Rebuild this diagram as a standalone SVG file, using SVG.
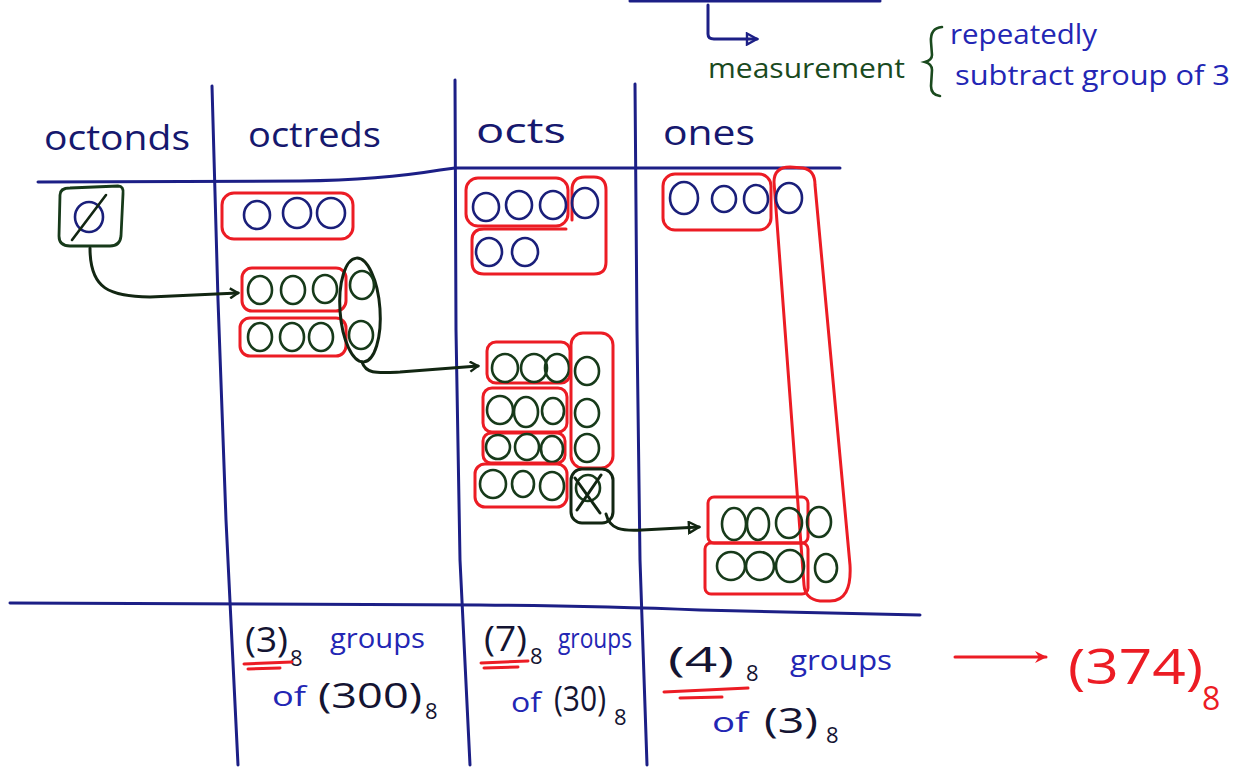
<svg xmlns="http://www.w3.org/2000/svg" width="1247" height="767" viewBox="0 0 1247 767">
  <style>
    .rule { fill: none; stroke: #1c1f86; stroke-width: 3; stroke-linecap: round; stroke-linejoin: round; }
    .red { fill: none; stroke: #ec1c24; stroke-width: 3; stroke-linecap: round; stroke-linejoin: round; }
    .blk { fill: none; stroke: #122612; stroke-width: 3; stroke-linecap: round; stroke-linejoin: round; }
    .bc { fill: none; stroke: #1a1f7a; stroke-width: 2.6; }
    .gc { fill: none; stroke: #173a1a; stroke-width: 2.6; }
    .head { font-family: "Open Sans", "Liberation Sans", sans-serif; font-size: 34px; fill: #16186e; }
    .note { font-family: "Open Sans", "Liberation Sans", sans-serif; font-size: 28px; }
    .num { font-family: "Open Sans", "Liberation Sans", sans-serif; font-size: 34px; fill: #141432; }
    .ink { fill: #141432; }
    .blue { fill: #2326b4; }
    .green { fill: #1a4a1e; }
    .sub { font-family: "Open Sans", "Liberation Sans", sans-serif; font-size: 22px; fill: #141432; }
    .result { font-family: "Open Sans", "Liberation Sans", sans-serif; font-size: 50px; fill: #ec1c24; }
    .rsub { font-family: "Open Sans", "Liberation Sans", sans-serif; font-size: 32px; fill: #ec1c24; }
  </style>
  <defs>
    <marker id="chev" viewBox="0 0 12 12" refX="10" refY="6" markerWidth="12" markerHeight="12" markerUnits="userSpaceOnUse" orient="auto">
      <path d="M2 1 L10 6 L2 11" fill="none" stroke="#122612" stroke-width="2.4"/>
    </marker>
    <marker id="tri" viewBox="0 0 14 14" refX="12" refY="7" markerWidth="14" markerHeight="14" markerUnits="userSpaceOnUse" orient="auto">
      <path d="M2 1.5 L12 7 L2 12.5 Z" fill="none" stroke="#122612" stroke-width="2.4"/>
    </marker>
    <marker id="triBlue" viewBox="0 0 14 14" refX="12" refY="7" markerWidth="14" markerHeight="14" markerUnits="userSpaceOnUse" orient="auto">
      <path d="M2 1.5 L12 7 L2 12.5 Z" fill="none" stroke="#1c1f86" stroke-width="2.4"/>
    </marker>
    <marker id="redHead" viewBox="0 0 14 14" refX="12" refY="7" markerWidth="14" markerHeight="14" markerUnits="userSpaceOnUse" orient="auto">
      <path d="M1 1 L13 7 L1 13 L5 7 Z" fill="#ec1c24"/>
    </marker>
  </defs>

  <rect width="1247" height="767" fill="#ffffff"/>

  <!-- table rules -->
  <g id="grid">
    <path class="rule" d="M630 1 L880 1"/>
    <path class="rule" d="M212 86 L218 300 L226 520 L238 765"/>
    <path class="rule" d="M455 80 L456 330 L460 560 L470 765"/>
    <path class="rule" d="M635 84 L637 330 L640 560 L647 765"/>
    <path class="rule" d="M38 182 L300 181 Q 380 180 440 170 L455 168 L840 168"/>
    <path class="rule" d="M10 603 L480 605 Q 600 606 700 610 L920 615"/>
  </g>

  <!-- note at top -->
  <g id="note">
    <text class="note green" x="708" y="78" textLength="197" lengthAdjust="spacingAndGlyphs">measurement</text>
    <path d="M942 27 Q 930 28 931 42 L 932 55 Q 932 60 925 62 Q 932 64 932 70 L 931 86 Q 931 95 940 96" fill="none" stroke="#1a4a1e" stroke-width="2.6" stroke-linecap="round"/>
    <text class="note blue" x="950" y="44" textLength="147" lengthAdjust="spacingAndGlyphs">repeatedly</text>
    <text class="note blue" x="955" y="85" textLength="275" lengthAdjust="spacingAndGlyphs">subtract group of 3</text>
  </g>

  <!-- column headings -->
  <g id="headings">
    <text class="head" x="44" y="150" textLength="146" lengthAdjust="spacingAndGlyphs">octonds</text>
    <text class="head" x="248" y="147" textLength="133" lengthAdjust="spacingAndGlyphs">octreds</text>
    <text class="head" x="476" y="143" textLength="90" lengthAdjust="spacingAndGlyphs">octs</text>
    <text class="head" x="663" y="145" textLength="92" lengthAdjust="spacingAndGlyphs">ones</text>
  </g>

  <!-- octonds: empty -->
  <g id="octonds-cell">
    <path d="M60 195 Q 60 188 70 188 L 118 186 Q 124 186 123 194 L 121 236 Q 120 246 110 246 L 70 246 Q 59 246 59 236 Z" fill="none" stroke="#173a1a" stroke-width="2.8"/>
    <ellipse class="bc" cx="89" cy="217" rx="14" ry="15"/>
    <path d="M72 240 L106 195" stroke="#122612" stroke-width="2.6" stroke-linecap="round"/>
  </g>

  <!-- octreds -->
  <g id="octreds-cell">
    <rect class="red" x="222" y="193" width="131" height="46" rx="12"/>
    <ellipse class="bc" cx="257" cy="215" rx="13" ry="14"/>
    <ellipse class="bc" cx="297" cy="213" rx="14" ry="15"/>
    <ellipse class="bc" cx="331" cy="213" rx="14" ry="15"/>

    <rect class="red" x="242" y="268" width="104" height="43" rx="10"/>
    <ellipse class="gc" cx="260" cy="290" rx="12" ry="14"/>
    <ellipse class="gc" cx="293" cy="290" rx="12" ry="14"/>
    <ellipse class="gc" cx="325" cy="289" rx="12" ry="14"/>

    <rect class="red" x="240" y="318" width="106" height="38" rx="10"/>
    <ellipse class="gc" cx="260" cy="337" rx="12" ry="14"/>
    <ellipse class="gc" cx="292" cy="337" rx="12" ry="14"/>
    <ellipse class="gc" cx="321" cy="337" rx="12" ry="14"/>

    <ellipse class="blk" cx="360" cy="310" rx="20" ry="52" transform="rotate(-4 360 310)"/>
    <ellipse class="gc" cx="362" cy="285" rx="12" ry="14"/>
    <ellipse class="gc" cx="361" cy="335" rx="12" ry="14"/>
  </g>

  <!-- octs -->
  <g id="octs-cell">
    <rect class="red" x="466" y="178" width="102" height="48" rx="12"/>
    <path class="red" d="M572 220 L572 190 Q 572 177 585 177 L 594 177 Q 606 177 606 190 L 606 262 Q 606 274 594 274 L 484 274 Q 472 274 472 262 L 472 240 Q 472 229 484 229 L 566 229"/>
    <ellipse class="bc" cx="486" cy="207" rx="13" ry="14"/>
    <ellipse class="bc" cx="519" cy="205" rx="13" ry="14"/>
    <ellipse class="bc" cx="553" cy="205" rx="13" ry="14"/>
    <ellipse class="bc" cx="585" cy="203" rx="13" ry="15"/>
    <ellipse class="bc" cx="489" cy="252" rx="13" ry="14"/>
    <ellipse class="bc" cx="525" cy="252" rx="13" ry="14"/>

    <rect class="red" x="487" y="342" width="83" height="41" rx="9"/>
    <ellipse class="gc" cx="505" cy="368" rx="13" ry="14"/>
    <ellipse class="gc" cx="534" cy="368" rx="13" ry="14"/>
    <ellipse class="gc" cx="557" cy="368" rx="12" ry="14"/>

    <rect class="red" x="483" y="388" width="84" height="44" rx="9"/>
    <ellipse class="gc" cx="500" cy="410" rx="13" ry="14"/>
    <ellipse class="gc" cx="526" cy="412" rx="12" ry="15"/>
    <ellipse class="gc" cx="553" cy="411" rx="11" ry="13"/>

    <rect class="red" x="483" y="433" width="82" height="30" rx="8"/>
    <ellipse class="gc" cx="498" cy="447" rx="12" ry="12"/>
    <ellipse class="gc" cx="527" cy="447" rx="12" ry="13"/>
    <ellipse class="gc" cx="552" cy="449" rx="11" ry="13"/>

    <rect class="red" x="475" y="464" width="92" height="43" rx="10"/>
    <ellipse class="gc" cx="493" cy="484" rx="13" ry="14"/>
    <ellipse class="gc" cx="523" cy="484" rx="11" ry="13"/>
    <ellipse class="gc" cx="552" cy="486" rx="12" ry="14"/>

    <rect class="red" x="571" y="333" width="42" height="135" rx="12"/>
    <ellipse class="gc" cx="587" cy="371" rx="12" ry="14"/>
    <ellipse class="gc" cx="587" cy="413" rx="12" ry="14"/>
    <ellipse class="gc" cx="587" cy="448" rx="12" ry="14"/>

    <rect class="blk" x="571" y="469" width="42" height="54" rx="11"/>
    <ellipse class="gc" cx="588" cy="488" rx="12" ry="13"/>
    <path class="blk" d="M575 478 L 600 513 M 601 475 L 577 510" stroke-width="2.4"/>
  </g>

  <!-- ones -->
  <g id="ones-cell">
    <rect class="red" x="663" y="174" width="108" height="56" rx="12"/>
    <ellipse class="bc" cx="684" cy="198" rx="14" ry="16"/>
    <ellipse class="bc" cx="724" cy="199" rx="12" ry="13"/>
    <ellipse class="bc" cx="756" cy="199" rx="12" ry="14"/>
    <path class="red" d="M774 182 Q 774 167 790 167 L 803 168 Q 815 170 815 185 L 850 565 Q 852 601 830 601 L 820 601 Q 805 599 804 585 Z"/>
    <ellipse class="bc" cx="789" cy="198" rx="13" ry="15"/>

    <rect class="red" x="708" y="497" width="100" height="46" rx="6"/>
    <ellipse class="gc" cx="734" cy="524" rx="12" ry="16"/>
    <ellipse class="gc" cx="758" cy="524" rx="11" ry="16"/>
    <ellipse class="gc" cx="789" cy="523" rx="13" ry="15"/>
    <ellipse class="gc" cx="819" cy="522" rx="12" ry="15"/>

    <rect class="red" x="705" y="543" width="103" height="51" rx="6"/>
    <ellipse class="gc" cx="731" cy="566" rx="14" ry="14"/>
    <ellipse class="gc" cx="760" cy="566" rx="14" ry="14"/>
    <ellipse class="gc" cx="790" cy="566" rx="14" ry="16"/>
    <ellipse class="gc" cx="826" cy="568" rx="11" ry="14"/>
  </g>

  <!-- regrouping arrows -->
  <g id="connectors">
    <path class="blk" d="M90 248 C 90 290, 110 296, 150 297 L 238 293" marker-end="url(#chev)"/>
    <path class="blk" d="M362 362 C 366 374, 376 373, 400 372 L 478 366" marker-end="url(#chev)"/>
    <path class="blk" d="M606 514 C 610 530, 622 531, 642 530 L 699 527" marker-end="url(#tri)"/>
    <path class="rule" d="M708 5 L 708 34 Q 708 39 714 39 L 757 39" marker-end="url(#triBlue)"/>
    <path d="M955 657 L 1046 657" fill="none" stroke="#ec1c24" stroke-width="3" stroke-linecap="round" marker-end="url(#redHead)"/>
  </g>

  <!-- totals -->
  <g id="totals">
    <text class="num" x="245" y="652" textLength="43" lengthAdjust="spacingAndGlyphs">(3)</text>
    <text class="sub" x="290" y="666">8</text>
    <text class="note blue" x="330" y="648" textLength="95" lengthAdjust="spacingAndGlyphs">groups</text>
    <path class="red" d="M244 664 L 292 662 M 248 669 L 280 668" stroke-width="2.5"/>
    <text class="note blue" x="272" y="706" textLength="34" lengthAdjust="spacingAndGlyphs">of</text>
    <text class="num" x="318" y="708" textLength="104" lengthAdjust="spacingAndGlyphs">(300)</text>
    <text class="sub" x="425" y="719">8</text>

    <text class="num" x="484" y="651" textLength="43" lengthAdjust="spacingAndGlyphs">(7)</text>
    <text class="sub" x="530" y="664">8</text>
    <text class="note blue" x="558" y="648" textLength="74" lengthAdjust="spacingAndGlyphs">groups</text>
    <path class="red" d="M481 663 L 528 661 M 484 668 L 518 667" stroke-width="2.5"/>
    <text class="note blue" x="511" y="712" textLength="30" lengthAdjust="spacingAndGlyphs">of</text>
    <text class="num" x="554" y="711" textLength="52" lengthAdjust="spacingAndGlyphs">(30)</text>
    <text class="sub" x="614" y="725">8</text>

    <text class="num" x="668" y="672" textLength="66" lengthAdjust="spacingAndGlyphs">(4)</text>
    <text class="sub" x="746" y="681">8</text>
    <text class="note blue" x="790" y="670" textLength="102" lengthAdjust="spacingAndGlyphs">groups</text>
    <path class="red" d="M664 692 L 748 688 M 680 698 L 722 697" stroke-width="2.5"/>
    <text class="note blue" x="712" y="732" textLength="36" lengthAdjust="spacingAndGlyphs">of</text>
    <text class="num" x="764" y="733" textLength="54" lengthAdjust="spacingAndGlyphs">(3)</text>
    <text class="sub" x="826" y="743">8</text>

    <text class="result" x="1068" y="684" textLength="135" lengthAdjust="spacingAndGlyphs">(374)</text>
    <text class="rsub" x="1202" y="710">8</text>
  </g>
</svg>
